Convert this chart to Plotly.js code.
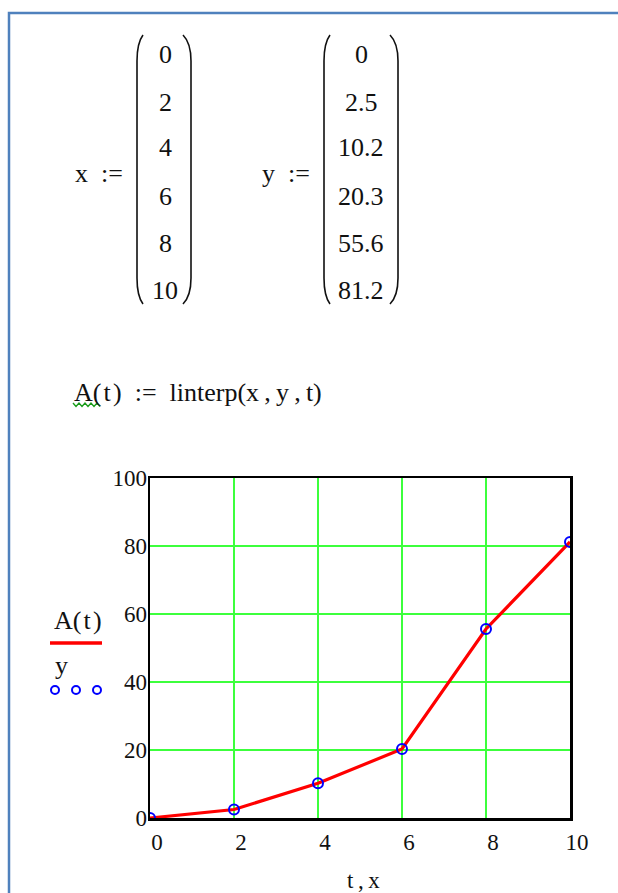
<!DOCTYPE html>
<html>
<head>
<meta charset="utf-8">
<script src="https://cdn.plot.ly/plotly-3.0.1.min.js"></script>
<style>
  html, body { margin: 0; padding: 0; background: #ffffff; }
  #plot { width: 618px; height: 893px; }
</style>
</head>
<body>
<div id="plot"></div>
<script>
// Data vectors of the worksheet
const xVals = [0, 2, 4, 6, 8, 10];
const yVals = [0, 2.5, 10.2, 20.3, 55.6, 81.2];
const xTickVals = [0, 2, 4, 6, 8, 10];
const yTickVals = [0, 20, 40, 60, 80, 100];

// Plot-area frame in page pixels (sizes divisible by 5 keep grid lines on whole pixels)
const L = 150, R = 570, T = 478, B = 818;
const W = R - L, H = B - T;
const px = X => (X - L) / W;
const py = Y => (B - Y) / H;

const serif = '"Liberation Serif", "Times New Roman", serif';
const ink = '#111111';
const fsMath = 26;   // worksheet expressions
const fsTick = 23;   // plot tick labels

function pathPx(points) {
  // points: [cmd, x, y, ...] in page pixels -> paper coordinates
  return points.map(p => {
    const nums = [];
    for (let i = 1; i < p.length; i += 2) {
      nums.push(px(p[i]).toFixed(5) + ',' + py(p[i + 1]).toFixed(5));
    }
    return p[0] + nums.join(' ');
  }).join(' ');
}

function paren(xTip, xBar, yTop, yBot) {
  const c = 26;
  return {
    type: 'path', xref: 'paper', yref: 'paper',
    path: pathPx([
      ['M', xTip, yTop],
      ['Q', xBar, yTop + 8, xBar, yTop + c],
      ['L', xBar, yBot - c],
      ['Q', xBar, yBot - 8, xTip, yBot]
    ]),
    line: { color: ink, width: 1.6 }
  };
}

const rowY = [54, 102, 148, 196, 243, 290];

const annotations = [];
function label(text, X, Y, anchor, size) {
  annotations.push({
    text: text, xref: 'paper', yref: 'paper',
    x: px(X), y: py(Y), xanchor: anchor || 'center', yanchor: 'middle',
    showarrow: false, font: { family: serif, size: size || fsMath, color: ink }
  });
}

const thin = '\u2009', hair = '\u200a', en = '\u2002';
label('x' + en + ':=', 99, 173);
label('y' + en + ':=', 286, 173);
xVals.forEach((v, i) => label(String(v), 165, rowY[i]));
yVals.forEach((v, i) => label(String(v), 361, rowY[i]));
label('A(' + hair + 't' + hair + ')' + en + ':=' + en + 'linterp(x' + thin + ',' + thin + 'y' + thin + ',' + thin + 't)', 72, 392, 'left');
label('A(' + hair + 't' + hair + ')', 52, 620, 'left');
label('y', 53, 665, 'left');
label('t' + thin + ',' + thin + 'x', 363, 880, 'center', fsTick);

// green squiggle under the function name
const sq = [['M', 73, 403]];
for (let i = 1; i <= 9; i++) sq.push(['L', 73 + i * 3, i % 2 ? 406.5 : 403]);

const shapes = [
  // region frame
  { type: 'rect', xref: 'paper', yref: 'paper',
    x0: px(9), x1: px(700), y0: py(13), y1: py(960),
    line: { color: '#4f81bd', width: 2.5 } },
  paren(143, 137, 35, 304),
  paren(183, 191, 35, 304),
  paren(330, 324, 35, 304),
  paren(390, 398, 35, 304),
  { type: 'path', xref: 'paper', yref: 'paper', path: pathPx(sq),
    line: { color: '#1a9c1a', width: 1.4 } },
  // trace keys beside the y axis
  { type: 'line', xref: 'paper', yref: 'paper',
    x0: px(50), x1: px(102), y0: py(643), y1: py(643),
    line: { color: '#ff0000', width: 3.5 } }
];
[55, 76, 97].forEach(cx => shapes.push({
  type: 'circle', xref: 'paper', yref: 'paper',
  x0: px(cx - 4), x1: px(cx + 4), y0: py(694), y1: py(686),
  line: { color: '#0000ff', width: 2 }
}));

const traces = [
  { x: xVals, y: yVals, type: 'scatter', mode: 'lines', name: 'A(t)',
    line: { color: '#ff0000', width: 3.2 }, hoverinfo: 'skip' },
  { x: xVals, y: yVals, type: 'scatter', mode: 'markers', name: 'y',
    marker: { symbol: 'circle-open', size: 10, color: '#0000ff', line: { width: 2, color: '#0000ff' } },
    hoverinfo: 'skip' }
];

function axis(extra) {
  return Object.assign({
    showgrid: true, gridcolor: '#3cff3c', gridwidth: 1.5,
    showline: true, linecolor: '#000000', linewidth: 2.5, mirror: true,
    zeroline: false, ticks: '', fixedrange: true,
    tickfont: { family: serif, size: fsTick, color: ink }
  }, extra);
}

const layout = {
  width: 618, height: 893,
  margin: { l: L, r: 618 - R, t: T, b: 893 - B, pad: 0 },
  paper_bgcolor: '#ffffff', plot_bgcolor: '#ffffff',
  showlegend: false,
  xaxis: axis({
    range: [0, 10], tickvals: xTickVals, ticktext: xTickVals.map(String),
    ticklabelshift: 7, ticklabelstandoff: 2
  }),
  yaxis: axis({
    range: [0, 100], tickvals: yTickVals, ticktext: yTickVals.map(String),
    ticklabelstandoff: -4
  }),
  shapes: shapes,
  annotations: annotations
};

Plotly.newPlot('plot', traces, layout, { displayModeBar: false, staticPlot: true });
</script>
</body>
</html>
